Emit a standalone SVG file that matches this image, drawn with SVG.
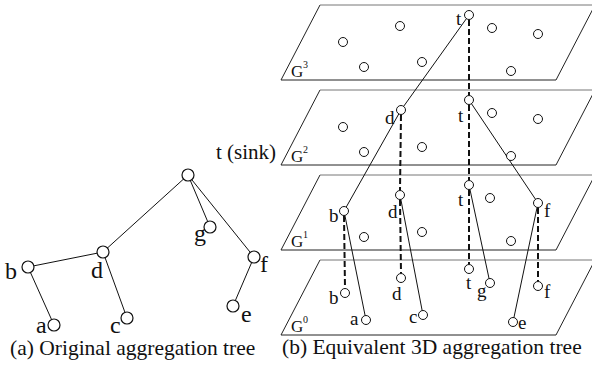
<svg xmlns="http://www.w3.org/2000/svg" width="592" height="366" viewBox="0 0 592 366">
<style>
.top{stroke:#777;stroke-width:1;fill:none}
.side{stroke:#222;stroke-width:1;fill:none}
.e{stroke:#111;stroke-width:1;fill:none}
.ds{stroke:#111;stroke-width:2;stroke-dasharray:6,3;fill:none}
.n{fill:#fff;stroke:#111;stroke-width:1}
.na{fill:#fff;stroke:#111;stroke-width:1.2}
text{font-family:"Liberation Serif","Times New Roman",serif;fill:#111}
.la{font-size:24px}
.lb{font-size:19px}
.cap{font-size:21.5px}
.g{font-size:17px}
.sup{font-size:10px}
</style>
<rect width="592" height="366" fill="#fff"/>
<g id="planes">
<g id="G3"><path class="side" d="M320,5 L281,80 L556,80 L595,5"/><path class="top" d="M320,5 H595"/><text class="g" x="291" y="77">G</text><text class="sup" x="303" y="68">3</text></g>
<g id="G2"><path class="side" d="M320,90 L281,165 L556,165 L595,90"/><path class="top" d="M320,90 H595"/><text class="g" x="291" y="162">G</text><text class="sup" x="303" y="153">2</text></g>
<g id="G1"><path class="side" d="M320,175 L281,250 L556,250 L595,175"/><path class="top" d="M320,175 H595"/><text class="g" x="291" y="247">G</text><text class="sup" x="303" y="238">1</text></g>
<g id="G0"><path class="side" d="M320,260 L281,335 L556,335 L595,260"/><path class="top" d="M320,260 H595"/><text class="g" x="291" y="332">G</text><text class="sup" x="303" y="323">0</text></g>
</g>
<g id="connectors">
<line class="e" x1="188" y1="175" x2="103" y2="252"/>
<line class="e" x1="188" y1="175" x2="210" y2="227"/>
<line class="e" x1="188" y1="175" x2="254" y2="257"/>
<line class="e" x1="103" y1="252" x2="28" y2="267"/>
<line class="e" x1="103" y1="252" x2="127" y2="318"/>
<line class="e" x1="28" y1="267" x2="54" y2="325"/>
<line class="e" x1="254" y1="257" x2="233" y2="306"/>
<line class="e" x1="469" y1="15" x2="401" y2="110"/>
<line class="e" x1="401" y1="110" x2="344" y2="211"/>
<line class="e" x1="469" y1="100" x2="538" y2="203"/>
<line class="e" x1="469" y1="185" x2="490" y2="283"/>
<line class="e" x1="400" y1="195" x2="423" y2="315"/>
<line class="e" x1="344" y1="211" x2="366" y2="320"/>
<line class="e" x1="538" y1="203" x2="513" y2="322"/>
<line class="ds" x1="469" y1="20" x2="469" y2="95"/>
<line class="ds" x1="469" y1="105" x2="469" y2="180"/>
<line class="ds" x1="469" y1="190" x2="469" y2="264"/>
<line class="ds" x1="401" y1="115" x2="400" y2="190"/>
<line class="ds" x1="400" y1="200" x2="401" y2="273"/>
<line class="ds" x1="344" y1="216" x2="345" y2="288"/>
<line class="ds" x1="538" y1="208" x2="538" y2="281"/>
</g>
<g id="tree-a">
<g id="a-t"><circle class="na" cx="188" cy="175" r="6"/><text class="la" x="216" y="159" style="font-size:21px">t (sink)</text></g>
<g id="a-g"><circle class="na" cx="210" cy="227" r="6"/><text class="la" x="194" y="241">g</text></g>
<g id="a-f"><circle class="na" cx="254" cy="257" r="6"/><text class="la" x="260" y="272">f</text></g>
<g id="a-d"><circle class="na" cx="103" cy="252" r="6"/><text class="la" x="91" y="278">d</text></g>
<g id="a-b"><circle class="na" cx="28" cy="267" r="6"/><text class="la" x="5" y="279">b</text></g>
<g id="a-a"><circle class="na" cx="54" cy="325" r="6"/><text class="la" x="36" y="333">a</text></g>
<g id="a-c"><circle class="na" cx="127" cy="318" r="6"/><text class="la" x="110" y="333">c</text></g>
<g id="a-e"><circle class="na" cx="233" cy="306" r="6"/><text class="la" x="241" y="322">e</text></g>
</g>
<g id="nodes-G3">
<g id="t3"><circle class="n" cx="469" cy="15" r="4.5"/><text class="lb" x="456" y="25">t</text></g>
<circle class="n" cx="343" cy="42" r="4.5"/><circle class="n" cx="364" cy="67" r="4.5"/><circle class="n" cx="400" cy="26" r="4.5"/><circle class="n" cx="422" cy="62" r="4.5"/><circle class="n" cx="492" cy="28" r="4.5"/><circle class="n" cx="511" cy="71" r="4.5"/><circle class="n" cx="538" cy="34" r="4.5"/>
</g>
<g id="nodes-G2">
<g id="d2"><circle class="n" cx="401" cy="110" r="4.5"/><text class="lb" x="385" y="124">d</text></g>
<g id="t2"><circle class="n" cx="469" cy="100" r="4.5"/><text class="lb" x="458" y="122">t</text></g>
<circle class="n" cx="343" cy="127" r="4.5"/><circle class="n" cx="364" cy="152" r="4.5"/><circle class="n" cx="422" cy="147" r="4.5"/><circle class="n" cx="492" cy="113" r="4.5"/><circle class="n" cx="511" cy="156" r="4.5"/><circle class="n" cx="538" cy="119" r="4.5"/>
</g>
<g id="nodes-G1">
<g id="b1"><circle class="n" cx="344" cy="211" r="4.5"/><text class="lb" x="329" y="222">b</text></g>
<g id="d1"><circle class="n" cx="400" cy="195" r="4.5"/><text class="lb" x="388" y="218">d</text></g>
<g id="t1"><circle class="n" cx="469" cy="185" r="4.5"/><text class="lb" x="458" y="206">t</text></g>
<g id="f1"><circle class="n" cx="538" cy="203" r="4.5"/><text class="lb" x="544" y="217">f</text></g>
<circle class="n" cx="490" cy="198" r="4.5"/><circle class="n" cx="364" cy="237" r="4.5"/><circle class="n" cx="422" cy="232" r="4.5"/><circle class="n" cx="511" cy="241" r="4.5"/>
</g>
<g id="nodes-G0">
<g id="d0"><circle class="n" cx="401" cy="278" r="4.5"/><text class="lb" x="392" y="300">d</text></g>
<g id="t0"><circle class="n" cx="469" cy="269" r="4.5"/><text class="lb" x="466" y="289">t</text></g>
<g id="b0"><circle class="n" cx="345" cy="293" r="4.5"/><text class="lb" x="329" y="304">b</text></g>
<g id="g0"><circle class="n" cx="490" cy="283" r="4.5"/><text class="lb" x="477" y="297">g</text></g>
<g id="f0"><circle class="n" cx="538" cy="286" r="4.5"/><text class="lb" x="544" y="298">f</text></g>
<g id="a0"><circle class="n" cx="366" cy="320" r="4.5"/><text class="lb" x="350" y="325">a</text></g>
<g id="c0"><circle class="n" cx="423" cy="315" r="4.5"/><text class="lb" x="409" y="323">c</text></g>
<g id="e0"><circle class="n" cx="513" cy="322" r="4.5"/><text class="lb" x="518" y="329">e</text></g>
</g>
<text class="cap" x="10" y="355">(a) Original aggregation tree</text>
<text class="cap" x="282" y="354">(b) Equivalent 3D aggregation tree</text>
</svg>
